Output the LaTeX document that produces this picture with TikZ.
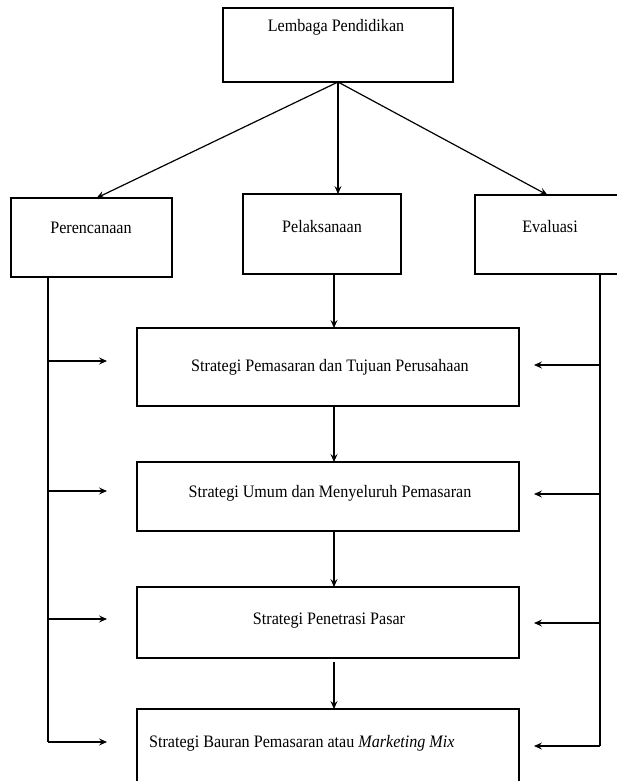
\documentclass[tikz,border=0pt]{standalone}
\usepackage{fontspec}
\setmainfont{Liberation Serif}
\usetikzlibrary{arrows.meta,calc}
\begin{document}
\begin{tikzpicture}[x=1pt,y=-1pt,
  box/.style={draw, line width=2.6pt, rectangle, inner sep=0pt, outer sep=0pt, anchor=north west},
  txt/.style={font=\fontsize{17.5}{20}\selectfont, inner sep=0pt, anchor=base, xscale=0.92, transform shape},
  conn/.style={line width=1.2pt, -{Stealth[length=8pt,width=7pt,inset=3pt]}},
  plainline/.style={line width=1.2pt}]
\useasboundingbox (0,0) rectangle (617,781);
\clip (0,0) rectangle (617,781);
% boxes
\node[box, minimum width=230pt, minimum height=74pt] (top) at (223,8) {};
\node[box, minimum width=161pt, minimum height=79pt] (per) at (11,198) {};
\node[box, minimum width=158pt, minimum height=80pt] (pel) at (243,194) {};
\node[box, minimum width=165pt, minimum height=79pt] (eva) at (475,195) {};
\node[box, minimum width=382pt, minimum height=78pt] (b1) at (137,328) {};
\node[box, minimum width=382pt, minimum height=69pt] (b2) at (137,462) {};
\node[box, minimum width=382pt, minimum height=71pt] (b3) at (137,587) {};
\node[box, minimum width=382pt, minimum height=95pt] (b4) at (137,709) {};
% texts
\node[txt] (topt) at (336,32) {Lembaga Pendidikan};
\node[txt] (pert) at (91,233) {Perencanaan};
\node[txt] (pelt) at (322,232) {Pelaksanaan};
\node[txt] (evat) at (550,232) {Evaluasi};
\node[txt] (b1t) at (330,371) {Strategi Pemasaran dan Tujuan Perusahaan};
\node[txt] (b2t) at (330,497) {Strategi Umum dan Menyeluruh Pemasaran};
\node[txt] (b3t) at (329,624) {Strategi Penetrasi Pasar};
\node[txt, anchor=base west] (b4t) at (149,747) {Strategi Bauran Pemasaran atau \textit{Marketing Mix}};
% top connectors
\draw[conn] (top.south) -- ([xshift=5pt]per.north);
\draw[conn] (top.south) -- (pel.north -| top.south);
\draw[conn] (top.south) -- ([xshift=-10pt]eva.north);
% central chain
\coordinate (cx) at (334,0);
\draw[conn] (pel.south -| cx) -- (b1.north -| cx);
\draw[conn] (b1.south -| cx) -- (b2.north -| cx);
\draw[conn] (b2.south -| cx) -- (b3.north -| cx);
\draw[conn, shorten <=4pt] (b3.south -| cx) -- (b4.north -| cx);
% left feedback
\coordinate (lx) at (48,0);
\coordinate (la1) at (107,361);
\coordinate (la2) at (107,491);
\coordinate (la3) at (107,619);
\coordinate (la4) at (107,742);
\draw[plainline] (per.south -| lx) -- (la4 -| lx);
\draw[conn] (la1 -| lx) -- (la1);
\draw[conn] (la2 -| lx) -- (la2);
\draw[conn] (la3 -| lx) -- (la3);
\draw[conn] (la4 -| lx) -- (la4);
% right feedback
\coordinate (rx) at (600,0);
\coordinate (ra1) at (534,365);
\coordinate (ra2) at (534,494);
\coordinate (ra3) at (534,623);
\coordinate (ra4) at (534,746);
\draw[plainline] (eva.south -| rx) -- (ra4 -| rx);
\draw[conn] (ra1 -| rx) -- (ra1);
\draw[conn] (ra2 -| rx) -- (ra2);
\draw[conn] (ra3 -| rx) -- (ra3);
\draw[conn] (ra4 -| rx) -- (ra4);
\end{tikzpicture}
\end{document}
